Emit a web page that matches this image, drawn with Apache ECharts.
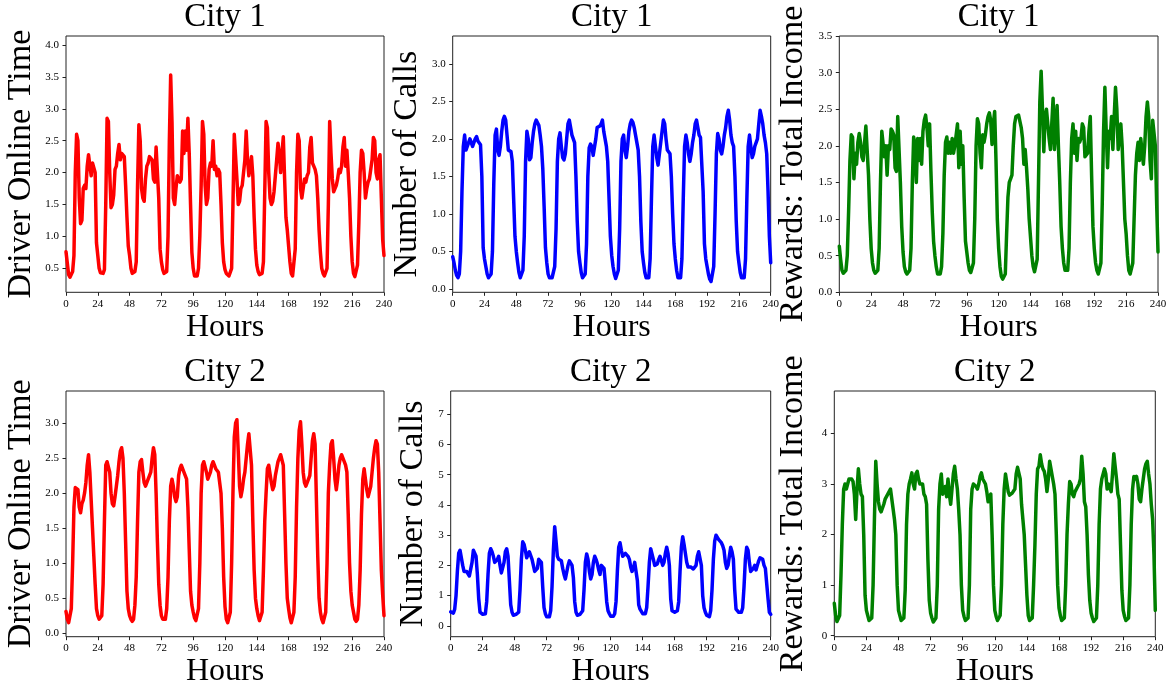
<!DOCTYPE html>
<html>
<head>
<meta charset="utf-8">
<script src="https://cdn.jsdelivr.net/npm/echarts@6/dist/echarts.min.js"></script>
<style>
html,body{margin:0;padding:0;background:#fff;}
#c{width:1171px;height:689px;}
</style>
</head>
<body>
<div id="c"></div>
<script>
// ---- data (hourly, hours 0..240) ----
const cityOneOnline = [
0.76,0.58,0.40,0.36,0.37,0.45,0.7,2.0,2.6,2.5,
1.6,1.2,1.25,1.75,1.8,1.75,2.1,2.28,2.25,1.95,
2.15,2.15,2.0,0.9,0.7,0.5,0.43,0.42,0.42,0.48,
1.5,2.85,2.8,2.0,1.45,1.5,1.65,2.05,2.1,2.3,
2.44,2.2,2.3,2.3,2.25,1.8,1.3,0.85,0.7,0.5,
0.42,0.42,0.45,0.6,1.8,2.75,2.5,1.75,1.6,1.55,
1.9,2.1,2.15,2.25,2.28,2.2,1.9,1.85,2.4,2.4,
1.6,0.8,0.6,0.48,0.42,0.42,0.45,1.0,2.5,3.53,
2.8,1.6,1.5,1.75,1.95,1.95,1.85,1.9,2.65,2.3,
2.65,2.35,2.85,2.3,1.5,0.75,0.5,0.38,0.38,0.38,
0.5,1.0,1.8,2.8,2.6,1.8,1.5,1.6,2.05,2.15,
2.1,2.5,2.05,2.1,1.95,2.05,2.0,1.5,0.9,0.6,
0.48,0.42,0.4,0.38,0.36,0.5,1.5,2.6,2.6,1.9,
1.5,1.55,1.75,1.8,1.8,2.2,2.65,2.2,1.95,1.95,
2.25,1.95,1.3,0.8,0.55,0.45,0.4,0.4,0.42,0.6,
1.7,2.8,2.7,2.0,1.6,1.5,1.55,1.7,1.95,2.2,
2.46,2.3,2.0,2.3,2.56,1.9,1.3,1.1,1.1,0.6,
0.42,0.38,0.4,0.8,2.0,2.6,2.5,1.75,1.6,1.6,
1.9,1.85,1.95,2.0,2.4,2.55,2.15,2.1,2.05,1.95,
1.6,1.1,0.75,0.5,0.42,0.38,0.38,0.5,1.5,2.8,
2.3,1.9,1.7,1.7,1.8,1.9,2.05,2.0,2.1,2.4,
2.55,2.1,2.35,2.0,1.6,1.0,0.6,0.42,0.37,0.4,
0.55,1.2,2.0,2.35,2.3,2.0,1.6,1.75,1.85,1.9,
1.9,2.2,2.55,2.5,2.0,1.9,2.2,2.28,1.6,0.95,
0.7];

const cityOneCalls = [
0.43,0.35,0.25,0.18,0.15,0.2,0.5,1.3,1.9,2.05,
1.85,1.85,1.95,2.0,1.98,1.9,1.9,2.0,2.03,1.97,
1.95,1.92,1.5,0.55,0.4,0.3,0.2,0.15,0.15,0.2,
0.5,1.4,2.05,2.13,1.85,1.78,1.9,2.1,2.25,2.3,
2.25,2.05,1.85,1.83,1.83,1.7,1.2,0.7,0.5,0.35,
0.22,0.15,0.15,0.25,0.7,1.7,2.1,2.0,1.72,1.75,
1.95,2.1,2.2,2.25,2.24,2.18,2.05,1.9,1.6,1.1,
0.55,0.35,0.2,0.15,0.13,0.15,0.15,0.3,0.8,1.7,
2.0,2.08,1.9,1.75,1.72,1.8,2.0,2.2,2.25,2.15,
2.05,2.03,1.95,1.5,0.9,0.5,0.35,0.22,0.15,0.15,
0.2,0.6,1.5,1.88,1.93,1.9,1.78,1.8,2.0,2.15,
2.15,2.17,2.2,2.25,2.1,2.0,1.9,1.7,1.2,0.7,
0.45,0.3,0.2,0.14,0.13,0.25,0.8,1.7,2.0,2.05,
1.85,1.75,1.9,2.1,2.2,2.25,2.22,2.15,2.05,1.95,
1.85,1.5,0.9,0.5,0.35,0.22,0.15,0.13,0.15,0.4,
1.2,1.9,2.05,1.9,1.75,1.65,1.8,1.95,2.1,2.25,
2.2,2.0,1.85,1.83,1.8,1.5,1.0,0.6,0.4,0.25,
0.15,0.13,0.15,0.4,1.2,1.9,2.05,1.95,1.8,1.7,
1.8,1.95,2.05,2.2,2.25,2.15,2.05,2.02,2.0,1.3,
0.6,0.4,0.3,0.2,0.13,0.1,0.1,0.3,1.0,1.8,
2.07,2.0,1.85,1.8,1.9,2.05,2.15,2.3,2.38,2.25,
2.05,1.95,1.9,1.5,0.9,0.5,0.35,0.22,0.15,0.13,
0.15,0.4,1.2,1.9,2.05,1.9,1.75,1.8,1.9,1.95,
2.0,2.2,2.38,2.3,2.2,2.05,1.95,1.8,1.3,0.7,
0.35];

const cityOneIncome = [
0.63,0.45,0.3,0.26,0.26,0.3,0.5,1.1,1.8,2.15,
2.12,1.55,1.9,1.75,2.05,2.17,2.05,1.85,1.8,1.8,
2.27,2.25,1.6,1.0,0.6,0.4,0.3,0.26,0.26,0.3,
0.6,1.5,2.2,2.2,1.85,2.0,1.6,2.0,1.95,2.23,
2.2,2.15,1.7,1.65,2.4,2.38,1.5,0.9,0.55,0.35,
0.28,0.25,0.25,0.3,0.6,1.5,2.12,2.0,1.5,2.1,
1.8,2.1,1.75,2.2,2.35,2.42,2.25,2.0,2.3,1.65,
1.1,0.7,0.5,0.35,0.25,0.23,0.25,0.35,0.8,1.6,
2.05,2.12,1.9,2.05,1.9,2.1,1.9,2.0,2.15,2.3,
1.7,2.2,1.75,2.0,1.3,0.7,0.55,0.4,0.3,0.27,
0.28,0.4,1.0,2.0,2.37,2.3,1.9,1.7,2.15,2.05,
2.15,2.3,2.4,2.45,2.35,2.02,2.3,2.47,1.8,1.0,
0.6,0.35,0.22,0.18,0.17,0.25,0.8,1.3,1.5,1.55,
1.6,2.0,2.3,2.4,2.42,2.42,2.4,2.25,2.1,1.75,
1.95,1.7,1.4,1.0,0.75,0.5,0.35,0.28,0.3,0.45,
1.5,2.6,3.02,2.5,1.92,2.4,2.5,2.3,2.1,1.95,
2.3,2.65,1.95,2.2,2.55,2.0,1.5,0.9,0.6,0.4,
0.3,0.28,0.3,0.6,1.5,2.1,2.3,1.9,2.2,1.8,
2.1,2.05,2.1,2.3,2.25,1.85,1.85,1.9,2.2,2.4,
1.6,0.9,0.6,0.4,0.3,0.25,0.27,0.4,1.2,2.2,
2.8,2.2,1.7,2.2,2.1,2.4,1.95,2.4,2.8,2.5,
1.95,2.1,2.3,2.0,1.5,1.0,0.8,0.5,0.3,0.25,
0.27,0.4,1.0,1.6,1.9,2.05,1.8,2.1,2.1,1.75,
2.0,2.4,2.6,2.4,1.8,1.55,2.35,2.35,2.0,1.2,
0.55];

const cityTwoOnline = [
0.31,0.2,0.15,0.17,0.35,1.0,1.8,2.08,2.1,2.05,
1.8,1.72,1.85,1.9,2.0,2.15,2.4,2.55,2.3,1.9,
1.5,1.1,0.7,0.35,0.25,0.2,0.18,0.25,0.7,1.6,
2.4,2.45,2.45,2.3,2.0,1.85,1.82,1.95,2.1,2.25,
2.45,2.6,2.65,2.5,2.0,1.3,0.6,0.35,0.25,0.2,
0.17,0.2,0.4,0.8,1.6,2.3,2.45,2.48,2.3,2.15,
2.1,2.15,2.2,2.25,2.3,2.5,2.65,2.55,2.0,1.3,
0.7,0.4,0.25,0.2,0.18,0.2,0.35,0.8,1.6,2.1,
2.2,2.1,1.95,1.88,1.95,2.25,2.35,2.4,2.35,2.3,
2.25,2.2,1.8,1.2,0.6,0.4,0.3,0.22,0.18,0.2,
0.35,1.0,2.0,2.4,2.45,2.45,2.3,2.2,2.18,2.3,
2.4,2.45,2.4,2.35,2.33,2.3,2.29,2.0,1.5,0.8,
0.38,0.2,0.15,0.16,0.3,1.0,2.0,2.8,3.0,3.05,
2.6,2.1,1.95,2.05,2.2,2.3,2.5,2.7,2.85,2.85,
2.4,1.6,0.9,0.5,0.35,0.25,0.18,0.18,0.3,0.9,
1.6,2.0,2.35,2.4,2.4,2.15,2.05,2.1,2.25,2.35,
2.45,2.5,2.55,2.55,2.4,1.7,1.0,0.5,0.35,0.22,
0.15,0.15,0.3,0.8,1.8,2.5,2.9,3.02,2.7,2.3,
2.15,2.1,2.15,2.2,2.25,2.5,2.75,2.85,2.7,1.9,
1.1,0.5,0.3,0.2,0.15,0.17,0.3,1.0,2.0,2.4,
2.7,2.75,2.5,2.2,2.05,2.2,2.4,2.5,2.55,2.5,
2.45,2.4,2.3,1.7,1.0,0.6,0.4,0.3,0.2,0.17,
0.2,0.4,0.9,1.7,2.2,2.35,2.2,2.05,1.95,1.95,
2.1,2.3,2.5,2.65,2.75,2.7,2.3,1.6,0.9,0.55,
0.25];

const cityTwoCalls = [
0.46,0.4,0.42,0.55,1.0,1.8,2.4,2.5,2.45,2.0,
1.8,1.75,1.8,1.72,1.65,1.7,2.1,2.5,2.55,2.3,
1.7,0.9,0.45,0.4,0.38,0.35,0.4,0.8,1.7,2.4,
2.55,2.45,2.3,2.1,2.05,2.2,2.3,2.0,1.75,1.7,
2.1,2.45,2.55,2.3,1.5,0.7,0.45,0.35,0.35,0.38,
0.35,0.45,1.2,2.2,2.78,2.7,2.5,2.25,2.2,2.45,
2.45,2.2,2.0,1.8,1.75,1.9,2.2,2.25,2.1,1.3,
0.6,0.4,0.3,0.25,0.3,0.5,1.3,2.5,3.28,2.8,
2.3,2.2,2.15,2.15,1.9,1.7,1.55,1.6,2.0,2.15,
2.1,2.0,1.6,0.8,0.45,0.35,0.35,0.38,0.4,0.5,
1.2,2.1,2.38,2.2,1.8,1.55,1.7,2.1,2.3,2.2,
2.05,1.85,1.7,2.0,2.05,1.9,1.4,0.8,0.5,0.4,
0.32,0.3,0.32,0.4,0.8,1.8,2.6,2.75,2.5,2.3,
2.35,2.4,2.42,2.3,2.2,1.95,1.8,1.9,2.1,2.15,
1.5,0.7,0.55,0.5,0.4,0.35,0.4,0.6,1.3,2.1,
2.55,2.5,2.2,2.0,2.0,2.05,2.2,2.3,2.15,2.0,
2.1,2.4,2.6,2.4,2.0,0.9,0.5,0.45,0.45,0.45,
0.5,0.8,1.8,2.6,2.95,2.7,2.4,2.1,1.95,1.95,
1.95,1.9,1.88,1.9,2.0,2.3,2.45,2.4,2.0,1.0,
0.6,0.45,0.35,0.3,0.3,0.5,1.2,2.2,2.8,3.0,
2.95,2.85,2.8,2.75,2.65,2.5,2.1,1.9,2.0,2.3,
2.6,2.45,2.2,1.2,0.55,0.5,0.45,0.45,0.45,0.6,
1.3,2.2,2.6,2.5,2.1,1.8,1.75,1.9,2.0,1.85,
2.0,2.15,2.25,2.3,2.2,2.0,1.9,1.4,0.9,0.45,
0.38];

const cityTwoIncome = [
0.64,0.4,0.28,0.27,0.4,1.2,2.2,2.9,3.0,2.9,
3.0,3.1,3.12,3.1,3.05,2.8,2.3,2.9,3.3,3.0,
2.8,2.75,2.0,0.8,0.5,0.4,0.3,0.27,0.35,1.0,
2.3,3.45,3.0,2.65,2.5,2.45,2.42,2.6,2.7,2.7,
2.8,2.85,2.9,2.92,2.5,2.3,2.0,1.0,0.5,0.4,
0.3,0.28,0.35,0.9,2.2,2.8,3.0,3.1,3.22,3.0,
2.9,3.2,3.25,3.1,3.0,2.98,3.0,2.8,2.75,2.6,
1.5,0.7,0.45,0.35,0.27,0.25,0.35,1.0,2.5,3.0,
3.2,2.8,2.85,2.95,2.75,3.1,2.8,2.6,2.9,3.2,
3.35,3.1,2.9,2.5,2.0,1.0,0.5,0.38,0.3,0.27,
0.35,1.0,2.5,2.9,3.0,2.98,2.95,2.9,3.0,3.15,
3.22,3.1,3.05,3.0,2.85,2.65,2.75,2.8,2.0,1.0,
0.5,0.38,0.3,0.3,0.4,1.0,2.2,2.9,3.2,3.22,
2.85,2.78,2.8,2.82,2.85,2.9,3.2,3.33,3.3,3.1,
2.6,2.3,2.0,1.4,0.8,0.4,0.3,0.28,0.35,1.0,
1.8,2.8,3.3,3.35,3.58,3.4,3.3,3.25,3.1,2.85,
3.1,3.45,3.3,3.15,3.0,2.8,2.0,1.0,0.55,0.4,
0.3,0.28,0.35,1.0,2.0,2.6,3.05,3.0,2.8,2.75,
2.85,2.9,2.95,3.0,3.1,3.55,3.2,2.65,2.55,2.0,
1.2,0.7,0.45,0.35,0.28,0.27,0.35,1.0,2.2,2.9,
3.1,3.2,3.3,3.2,2.9,3.0,3.0,2.85,3.2,3.6,
3.35,3.1,2.8,2.7,1.8,0.9,0.5,0.38,0.3,0.27,
0.35,1.0,2.2,2.9,3.15,3.1,3.15,3.0,2.7,2.65,
2.9,3.1,3.3,3.4,3.45,3.2,3.0,2.6,2.3,1.6,
0.5];

// tick labels
const hourTicks = [0,24,48,72,96,120,144,168,192,216,240];
const ticksOnline1 = [0.5,1.0,1.5,2.0,2.5,3.0,3.5,4.0];
const ticksCalls1 = [0.0,0.5,1.0,1.5,2.0,2.5,3.0];
const ticksIncome1 = [0.0,0.5,1.0,1.5,2.0,2.5,3.0,3.5];
const ticksOnline2 = [0.0,0.5,1.0,1.5,2.0,2.5,3.0];
const ticksCalls2 = [0,1,2,3,4,5,6,7];
const ticksIncome2 = [0,1,2,3,4];

const titles = ['City 1','City 1','City 1','City 2','City 2','City 2'];
const yNames = ['Driver Online Time','Number of Calls','Rewards: Total Income',
                'Driver Online Time','Number of Calls','Rewards: Total Income'];
const xName = 'Hours';

// ---- layout ----
const FONT = '"Liberation Serif","Times New Roman",serif';
const panels = [
  {data: cityOneOnline, color:'#ff0000', ticks: ticksOnline1, dec:1, min:0.124, max:4.14,
   box:[66,36,318,256.3], ylx:21.5},
  {data: cityOneCalls, color:'#0000ff', ticks: ticksCalls1, dec:1, min:-0.044, max:3.37,
   box:[452.7,36,318,256.3], ylx:406.8},
  {data: cityOneIncome, color:'#008000', ticks: ticksIncome1, dec:1, min:0, max:3.5,
   box:[839.3,36,318.7,256.3], ylx:793.5},
  {data: cityTwoOnline, color:'#ff0000', ticks: ticksOnline2, dec:1, min:-0.05, max:3.46,
   box:[66,391,318,245.7], ylx:21.5},
  {data: cityTwoCalls, color:'#0000ff', ticks: ticksCalls2, dec:0, min:-0.36, max:7.77,
   box:[450.7,391,320,245.7], ylx:413.5},
  {data: cityTwoIncome, color:'#008000', ticks: ticksIncome2, dec:0, min:-0.02, max:4.84,
   box:[834.3,391,321,245.7], ylx:793.5}
];

const grid=[], xAxis=[], yAxis=[], series=[], graphic=[];
panels.forEach((p,i)=>{
  const [l,t,w,h] = p.box;
  grid.push({left:l, top:t, width:w, height:h, show:true, borderColor:'#222', borderWidth:1,
             containLabel:false, outerBoundsMode:'none'});
  xAxis.push({type:'value', gridIndex:i, position:'bottom', min:0, max:240, interval:24,
    axisLine:{show:false, onZero:false}, splitLine:{show:false},
    axisTick:{show:true, inside:false, length:3.5, lineStyle:{color:'#222'}},
    axisLabel:{fontFamily:FONT, fontSize:11, color:'#000', margin:6,
      customValues: hourTicks, formatter: v => String(v)}});
  yAxis.push({type:'value', gridIndex:i, position:'left', min:p.min, max:p.max,
    axisLine:{show:false, onZero:false}, splitLine:{show:false},
    axisTick:{show:true, inside:false, length:3.5, lineStyle:{color:'#222'}, customValues:p.ticks},
    axisLabel:{fontFamily:FONT, fontSize:11, color:'#000', margin:7,
      customValues:p.ticks, formatter: v => Number(v).toFixed(p.dec)}});
  series.push({type:'line', xAxisIndex:i, yAxisIndex:i, showSymbol:false, symbol:'none',
    animation:false, clip:true,
    lineStyle:{color:p.color, width:3.5, join:'round', cap:'round'},
    data: p.data.map((v,k)=>[k,v])});
  const cx = l + w/2, cy = t + h/2;
  graphic.push({type:'text', x:cx, y: i<3 ? 17.5 : 372,
    style:{text:titles[i], font:'33px '+FONT, fill:'#000', align:'center', verticalAlign:'middle'}});
  graphic.push({type:'text', x:cx, y: i<3 ? 328 : 672,
    style:{text:xName, font:'32px '+FONT, fill:'#000', align:'center', verticalAlign:'middle'}});
  graphic.push({type:'text', x:p.ylx, y:cy, rotation:Math.PI/2,
    style:{text:yNames[i], font:'34px '+FONT, fill:'#000', align:'center', verticalAlign:'middle'}});
});

const chart = echarts.init(document.getElementById('c'), null, {renderer:'canvas'});
chart.setOption({backgroundColor:'#fff', animation:false, grid, xAxis, yAxis, series, graphic});
</script>
</body>
</html>
